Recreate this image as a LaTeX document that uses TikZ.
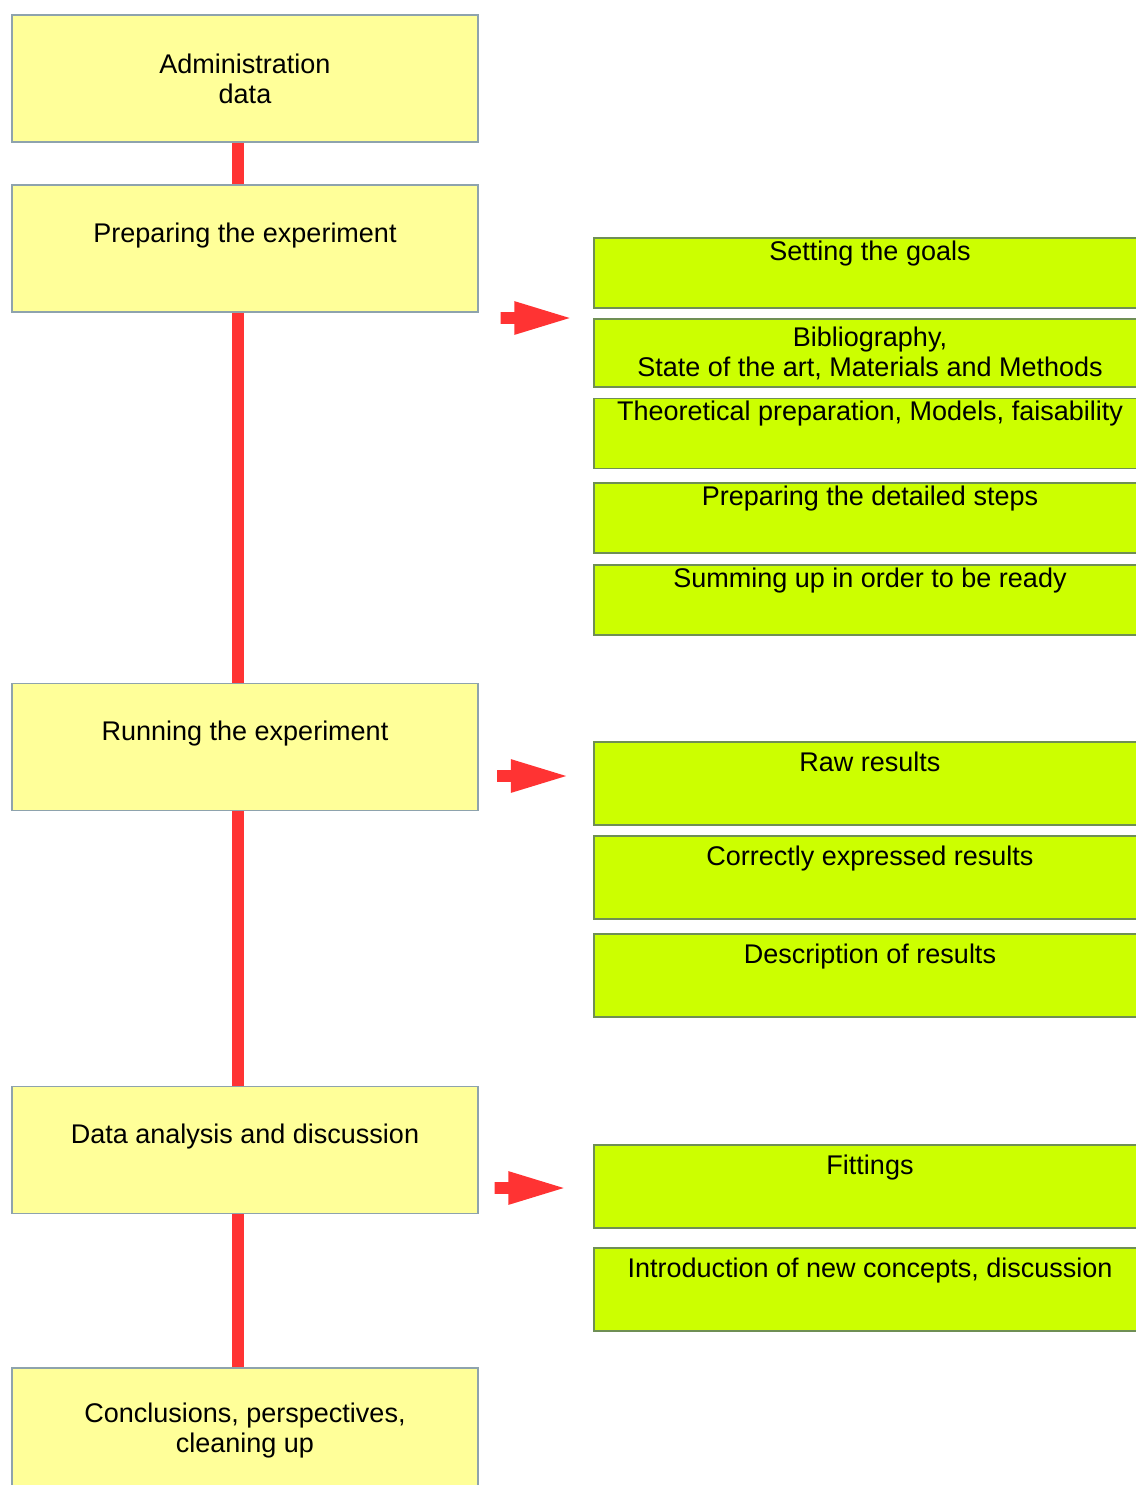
\documentclass[tikz,border=0pt]{standalone}
\usepackage{fontspec}
\setmainfont{Liberation Sans}
\usetikzlibrary{shapes.arrows}
\definecolor{stagefill}{HTML}{FFFF99}
\definecolor{stageedge}{HTML}{8EA3AD}
\definecolor{taskfill}{HTML}{CCFF00}
\definecolor{taskedge}{HTML}{6F8F55}
\definecolor{linkred}{HTML}{FF3333}
\tikzset{
  stage/.style    = {shape=rectangle, draw=stageedge, fill=stagefill,
                     line width=0.8pt, inner ysep=0pt,
                     minimum width=233pt, minimum height=63.5pt,
                     text height=28.5pt, text depth=35pt},
  task/.style     = {shape=rectangle, draw=taskedge, fill=taskfill,
                     line width=0.8pt, inner ysep=0pt,
                     minimum width=276pt, minimum height=35pt,
                     text height=11pt, text depth=24pt},
  tasktall/.style = {task, minimum height=41.5pt,
                     text height=14.5pt, text depth=27pt},
  link/.style     = {draw=linkred, line width=6pt},
  bigarrow/.style = {single arrow, fill=linkred, draw=none,
                     inner sep=2.75pt, minimum height=34.5pt,
                     single arrow head extend=5.5pt,
                     single arrow tip angle=34}
}
\begin{document}
\begin{tikzpicture}
  [
    x                 = 0.5pt,
    y                 = -0.5pt,
    every node/.style = {font=\fontsize{13.5}{15}\selectfont}
  ]
  \useasboundingbox (0,0) rectangle (1136,1485);

  % main steps
  \node [stage, align=center, text height=44pt, text depth=19.5pt]
    (admin) at (245,78.5) {Administration\\data};
  \node [stage] (prep) at (245,248.5) {Preparing the experiment};
  \node [stage] (run)  at (245,747)   {Running the experiment};
  \node [stage] (anal) at (245,1150)  {Data analysis and discussion};
  \node [stage, align=center, text height=42pt, text depth=21.5pt]
    (concl) at (245,1431.5) {Conclusions, perspectives,\\cleaning up};

  \draw [link] ([xshift=-3.5pt]admin.south) -- ([xshift=-3.5pt]prep.north);
  \draw [link] ([xshift=-3.5pt]prep.south)  -- ([xshift=-3.5pt]run.north);
  \draw [link] ([xshift=-3.5pt]run.south)   -- ([xshift=-3.5pt]anal.north);
  \draw [link] ([xshift=-3.5pt]anal.south)  -- ([xshift=-3.5pt]concl.north);

  % preparing
  \node [bigarrow] (arrprep) at (525.5,318) {};
  \node [task] (goals) at (870,273) {Setting the goals};
  \node [task, align=center, minimum height=34pt,
         text height=28.5pt, text depth=5.5pt]
    (biblio) at (870,353) {Bibliography,\\State of the art, Materials and Methods};
  \node [task] (theory) at (870,433.5) {Theoretical preparation, Models, faisability};
  \node [task] (steps)  at (870,518)   {Preparing the detailed steps};
  \node [task] (ready)  at (870,600)   {Summing up in order to be ready};

  % running
  \node [bigarrow] (arrrun) at (522,776) {};
  \node [tasktall] (raw)     at (870,783.5) {Raw results};
  \node [tasktall] (correct) at (870,877.5) {Correctly expressed results};
  \node [tasktall] (descr)   at (870,975.5) {Description of results};

  % analysis
  \node [bigarrow] (arranal) at (519.5,1188) {};
  \node [tasktall] (fit)   at (870,1186.5) {Fittings};
  \node [tasktall] (intro) at (870,1289.5) {Introduction of new concepts, discussion};
\end{tikzpicture}
\end{document}
